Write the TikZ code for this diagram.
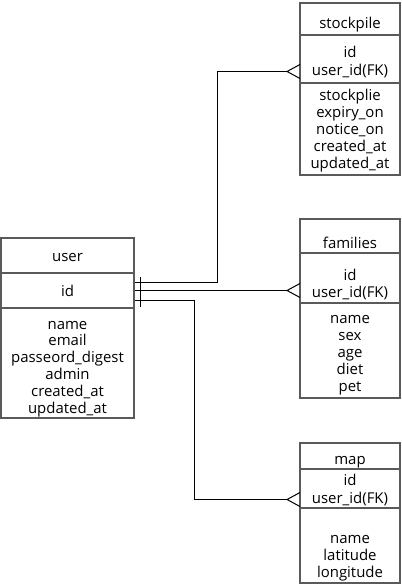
\documentclass[tikz,border=0pt]{standalone}
\usepackage{fontspec}
\setmainfont{Open Sans}
\definecolor{boxc}{HTML}{5A5A5A}
\begin{document}
\begin{tikzpicture}[x=1bp,y=-1bp,
  sect/.style={draw=boxc, line width=2bp, inner sep=0pt, minimum width=#1},
  usect/.style={sect=133bp},
  rsect/.style={sect=100bp},
  txt/.style={inner sep=0pt, font=\fontsize{15}{17}\selectfont, text height=10bp, text depth=0bp},
  conn/.style={draw=black, line width=1bp}]
\useasboundingbox (0,0) rectangle (401,585);
% user
\node[usect, minimum height=35bp] (su1) at (67.5,255.5) {};
\node[usect, minimum height=35bp] (su2) at (67.5,290.5) {};
\node[usect, minimum height=110bp] (su3) at (67.5,363) {};
\node[txt] (tu1) at (67.5,256) {user};
\node[txt] (tu2) at (67.5,291) {id};
\foreach \t [count=\i] in {name,email,passeord\_digest,admin,created\_at,updated\_at}
  \node[txt] (tu3-\i) at (67.5,{324+16.8*(\i-1)}) {\t};
% stockpile
\node[rsect, minimum height=32bp] (sk1) at (350,19) {};
\node[rsect, minimum height=48bp] (sk2) at (350,59) {};
\node[rsect, minimum height=92bp] (sk3) at (350,129) {};
\node[txt] (tk1) at (350,24) {stockpile};
\node[txt] (tk2a) at (350,53) {id};
\node[txt] (tk2b) at (350,71) {user\_id(FK)};
\foreach \t [count=\i] in {stockplie,expiry\_on,notice\_on,created\_at,updated\_at}
  \node[txt] (tk3-\i) at (350,{96+17*(\i-1)}) {\t};
% families
\node[rsect, minimum height=34bp] (sf1) at (350,236) {};
\node[rsect, minimum height=50bp] (sf2) at (350,278) {};
\node[rsect, minimum height=95bp] (sf3) at (350,350.5) {};
\node[txt] (tf1) at (350,243) {families};
\node[txt] (tf2a) at (350,275) {id};
\node[txt] (tf2b) at (350,292) {user\_id(FK)};
\foreach \t [count=\i] in {name,sex,age,diet,pet}
  \node[txt] (tf3-\i) at (350,{318+17*(\i-1)}) {\t};
% map
\node[rsect, minimum height=26bp] (sm1) at (350,456) {};
\node[rsect, minimum height=39bp] (sm2) at (350,488.5) {};
\node[rsect, minimum height=75bp] (sm3) at (350,545.5) {};
\node[txt] (tm1) at (350,459) {map};
\node[txt] (tm2a) at (350,480) {id};
\node[txt] (tm2b) at (350,498) {user\_id(FK)};
\foreach \t [count=\i] in {name,latitude,longitude}
  \node[txt] (tm3-\i) at (350,{538+17*(\i-1)}) {\t};
% connection points
\coordinate (u1) at ([yshift=8bp]su2.east);
\coordinate (u2) at (su2.east);
\coordinate (u3) at ([yshift=-10bp]su2.east);
\coordinate (x1) at (217.5,0);
\coordinate (x3) at (194.5,0);
\coordinate (k1) at (287,71.5);
\coordinate (k2) at (287,290.5);
\coordinate (k3) at (287,499.5);
% connectors
\draw[conn] (u1) -- (u1 -| x1) |- (k1);
\draw[conn] (u2) -- (k2);
\draw[conn] (u3) -- (u3 -| x3) |- (k3);
% crow's feet
\foreach \k in {k1,k2,k3}
  \draw[conn] ([shift={(13,-7)}]\k) -- (\k) -- ([shift={(13,7)}]\k);
% one bar
\coordinate (bar) at (140.5,0);
\draw[conn] (bar |- 0,277) -- (bar |- 0,307);
\end{tikzpicture}
\end{document}
